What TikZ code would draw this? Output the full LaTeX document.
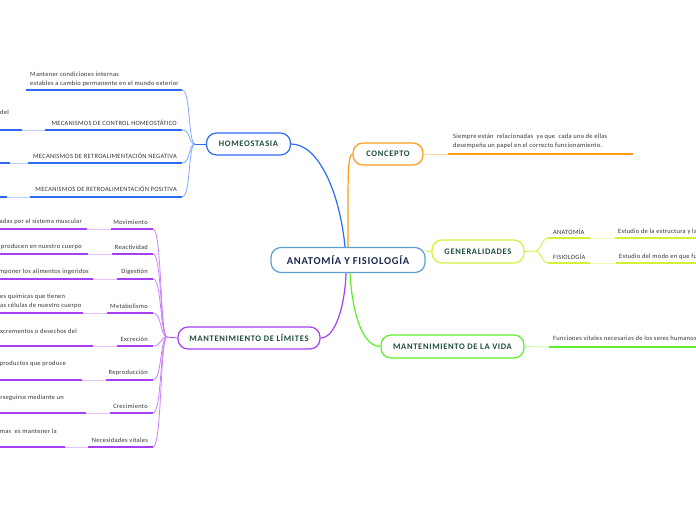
\documentclass[tikz,border=0pt]{standalone}
\usepackage{fontspec}
\setmainfont{Carlito}
\usetikzlibrary{calc,backgrounds}
\definecolor{hblue}{HTML}{2E6BF5}
\definecolor{hbluem}{HTML}{7FA6FF}
\definecolor{hbluel}{HTML}{B9CFFF}
\definecolor{orng}{HTML}{FF9C1A}
\definecolor{orngl}{HTML}{FFD49A}
\definecolor{ygrn}{HTML}{D6F03A}
\definecolor{ygrnl}{HTML}{EEF9B0}
\definecolor{grn}{HTML}{5EEF2A}
\definecolor{grnl}{HTML}{BDF9A6}
\definecolor{purp}{HTML}{A63EF2}
\definecolor{purpm}{HTML}{C983FA}
\definecolor{purpl}{HTML}{E3C2FB}
\definecolor{cblue}{HTML}{5A9FD8}
\definecolor{navy}{HTML}{1B2A4A}
\definecolor{dgreen}{HTML}{1E4D3C}
\definecolor{txt}{HTML}{333333}
\begin{document}
\begin{tikzpicture}[x=1pt,y=-1pt,
  pill/.style={draw, fill=white, rounded corners=10pt, line width=1.2pt, text=dgreen,
    font=\bfseries\fontsize{8.5}{9}\selectfont\addfontfeatures{LetterSpace=8}, inner sep=0pt},
  lbl/.style={text=txt, font=\fontsize{6.5}{9}\selectfont\addfontfeatures{LetterSpace=4}, inner sep=0pt},
  uline/.style={line width=1.8pt},
  conn/.style={line width=0.8pt},
  mainconn/.style={line width=1.2pt},
]
\useasboundingbox (0,0) rectangle (696,520);
\clip (0,0) rectangle (696,520);

% ---------- main nodes ----------
\node[pill, draw=cblue, text=navy, font=\bfseries\fontsize{10.5}{11}\selectfont\addfontfeatures{LetterSpace=7},
      minimum width=154pt, minimum height=25pt] (c) at (348,260) {ANATOMÍA Y FISIOLOGÍA};
\node[pill, draw=hblue, minimum width=84pt, minimum height=22pt] (homeo) at (248.5,144) {HOMEOSTASIA};
\node[pill, draw=orng, minimum width=70pt, minimum height=22pt] (conc) at (388,154) {CONCEPTO};
\node[pill, draw=ygrn, minimum width=92pt, minimum height=23pt] (gen) at (478,251.5) {GENERALIDADES};
\node[pill, draw=grn, minimum width=143pt, minimum height=23pt] (vida) at (452.5,346.5) {MANTENIMIENTO DE LA VIDA};
\node[pill, draw=purp, minimum width=142pt, minimum height=22pt] (lim) at (249,338) {MANTENIMIENTO DE LÍMITES};

% ---------- main connectors, under the nodes ----------
\begin{scope}[on background layer]
\draw[hblue, mainconn] (homeo.east) .. controls +(28,0) and +(-5,-53) .. ($(c.north)+(-3,0)$);
\draw[orng, mainconn] (conc.west) .. controls +(-5,2) and +(0,-70) .. (c.north);
\draw[ygrn, mainconn] ($(c.east)+(0,-9)$) -- (gen.west);
\draw[purp, mainconn] ($(c.south)+(-2,0)$) .. controls +(-1,32) and +(15,0) .. (lim.east);
\draw[grn, mainconn] ($(c.south)+(2,0)$) .. controls +(2,37) and +(-19,0) .. (vida.west);
\end{scope}

% ---------- HOMEOSTASIA ----------
\coordinate (hh) at (195,144);
\draw[hblue, conn] (homeo.west) -- (hh);
\coordinate (h1) at (182,90);
\coordinate (h2) at (182,130);
\coordinate (h3) at (182,163);
\coordinate (h4) at (182,197);
\foreach \p in {h1,h2,h3,h4}
  \draw[hbluem, conn] (\p) .. controls +(9,0) and +(-7,0) .. (hh);
\draw[hblue, uline] (h1) -- (26,90);
\draw[hblue, uline] (h2) -- (45,130);
\draw[hbluel, conn] (45,130) -- (22,130);
\draw[hblue, uline] (22,130) -- (0,130);
\draw[hblue, uline] (h3) -- (28,163);
\draw[hbluel, conn] (28,163) -- (10,163);
\draw[hblue, uline] (10,163) -- (0,163);
\draw[hblue, uline] (h4) -- (30,197);
\draw[hbluel, conn] (30,197) -- (7,197);
\draw[hblue, uline] (7,197) -- (0,197);

\node[lbl, anchor=west, align=left] (t1) at (30,79) {Mantener condiciones internas\\estables a cambio permanente en el mundo exterior};
\node[lbl, anchor=east] (t2) at (177,123) {MECANISMOS DE CONTROL HOMEOSTÁTICO};
\node[lbl, anchor=west] (t2a) at (0,112) {del};
\node[lbl, anchor=east] (t3) at (177,156) {MECANISMOS DE RETROALIMENTACIÓN NEGATIVA};
\node[lbl, anchor=east] (t4) at (177,189) {MECANISMOS DE RETROALIMENTACIÓN POSITIVA};

% ---------- MANTENIMIENTO DE LÍMITES ----------
\coordinate (lh) at (167,337);
\draw[purp, conn] (lim.west) -- (lh);
\foreach \y/\a/\b in {229/111/87, 254/112/88, 279/117/93, 313/107/83, 346/117/93, 380/106/82, 413/110/86, 447/88/65}{
  \coordinate (l\y) at (153,\y);
  \draw[purpm, conn] (l\y) .. controls +(9,0) and +(-7,0) .. (lh);
  \draw[purp, uline] (l\y) -- (\a,\y);
  \draw[purpl, conn] (\a,\y) -- (\b,\y);
  \draw[purp, uline] (\b,\y) -- (0,\y);
}
\node[lbl, anchor=east] (m1) at (148,222) {Movimiento};
\node[lbl, anchor=east] (m1a) at (82,222) {adas por el sistema muscular};
\node[lbl, anchor=east] (m2) at (148,247) {Reactividad};
\node[lbl, anchor=east] (m2a) at (82,247) {producen en nuestro cuerpo};
\node[lbl, anchor=east] (m3) at (148,272) {Digestión};
\node[lbl, anchor=east] (m3a) at (89,272) {mponer los alimentos ingeridos};
\node[lbl, anchor=east] (m4) at (148,306) {Metabolismo};
\node[lbl, anchor=west, align=left] (m4a) at (0,301) {es químicas que tienen\\as células de nuestro cuerpo};
\node[lbl, anchor=east] (m5) at (148,339) {Excreción};
\node[lbl, anchor=west] (m5a) at (0,331) {xcrementos o desechos del};
\node[lbl, anchor=east] (m6) at (148,373) {Reproducción};
\node[lbl, anchor=east] (m6a) at (66,364) {productos que produce};
\node[lbl, anchor=east] (m7) at (148,406) {Crecimiento};
\node[lbl, anchor=east] (m7a) at (64,398) {rseguirse mediante un};
\node[lbl, anchor=east] (m8) at (148,440) {Necesidades vitales};
\node[lbl, anchor=east] (m8a) at (57,431) {mas\ \ es mantener la};

% ---------- CONCEPTO ----------
\coordinate (cc) at (448,154);
\draw[orngl, conn] (conc.east) -- (cc);
\draw[orng, uline] (cc) -- (633,154);
\node[lbl, anchor=west, align=left] (ct) at (453,141.5) {Siempre están\ \ relacionadas\ \ ya que\ \ cada una de ellas\\desempeña un papel en el correcto funcionamiento.};

% ---------- GENERALIDADES ----------
\coordinate (gh) at (535,251);
\draw[ygrn, conn] (gen.east) -- (gh);
\coordinate (ga) at (548,238);
\coordinate (gf) at (548,263);
\draw[ygrn, conn] (gh) .. controls +(6,0) and +(-6,0) .. (ga);
\draw[ygrn, conn] (gh) .. controls +(6,0) and +(-6,0) .. (gf);
\draw[ygrn, uline] (ga) -- (590,238);
\draw[ygrnl, conn] (590,238) -- (615,238);
\draw[ygrn, uline] (615,238) -- (700,238);
\draw[ygrn, uline] (gf) -- (590,263);
\draw[ygrnl, conn] (590,263) -- (616,263);
\draw[ygrn, uline] (616,263) -- (700,263);
\node[lbl, anchor=west] (ga1) at (553,232) {ANATOMÍA};
\node[lbl, anchor=west] (ga2) at (618,232) {Estudio de la estructura y la};
\node[lbl, anchor=west] (gf1) at (553,257) {FISIOLOGÍA};
\node[lbl, anchor=west] (gf2) at (619,257) {Estudio del modo en que fu};

% ---------- MANTENIMIENTO DE LA VIDA ----------
\coordinate (vc) at (549,347);
\draw[grnl, conn] (vida.east) -- (vc);
\draw[grn, uline] (vc) -- (700,347);
\node[lbl, anchor=west] (vt) at (553,338) {Funciones vitales necesarias de los seres humanos};

\end{tikzpicture}
\end{document}
